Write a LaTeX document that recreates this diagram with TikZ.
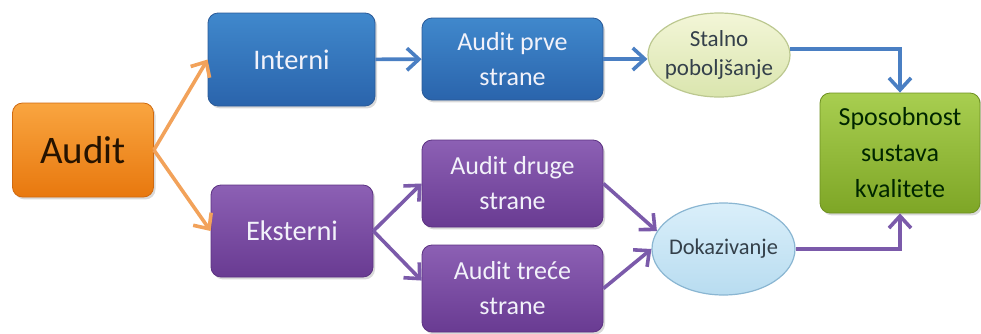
\documentclass[tikz,border=0pt]{standalone}
\usepackage{fontspec}
\setmainfont{Carlito}
\usetikzlibrary{arrows.meta,shapes.geometric,shadows}

\definecolor{orangetop}{HTML}{F9A540}
\definecolor{orangebot}{HTML}{E8780E}
\definecolor{orangeline}{HTML}{D06A10}
\definecolor{bluetop}{HTML}{4088CC}
\definecolor{bluebot}{HTML}{2A64AC}
\definecolor{blueline}{HTML}{2A5A98}
\definecolor{purpletop}{HTML}{8C60B4}
\definecolor{purplebot}{HTML}{693B92}
\definecolor{purpleline}{HTML}{5C3282}
\definecolor{greentop}{HTML}{A8CE50}
\definecolor{greenbot}{HTML}{7EA626}
\definecolor{greenline}{HTML}{6E9020}
\definecolor{paletop}{HTML}{F3F6D8}
\definecolor{palebot}{HTML}{DAE5AE}
\definecolor{paleline}{HTML}{BCC890}
\definecolor{skytop}{HTML}{DAEFFA}
\definecolor{skybot}{HTML}{B8DCF0}
\definecolor{skyline}{HTML}{8AB6D2}
\definecolor{orangearrow}{HTML}{F2A25A}
\definecolor{bluearrow}{HTML}{4A7FC3}
\definecolor{purplearrow}{HTML}{7B5AAA}
\definecolor{lightink}{HTML}{F2F2FA}
\definecolor{ovalink}{HTML}{34404A}

\tikzset{
  box/.style={rectangle, rounded corners=5pt, line width=0.4pt, inner sep=0pt,
    align=center, drop shadow={opacity=0.3, shadow xshift=1pt, shadow yshift=-1.2pt}},
  orangebox/.style={box, top color=orangetop, bottom color=orangebot, draw=orangeline,
    text=black!85!orange},
  bluebox/.style={box, top color=bluetop, bottom color=bluebot, draw=blueline, text=lightink},
  purplebox/.style={box, top color=purpletop, bottom color=purplebot, draw=purpleline, text=lightink},
  greenbox/.style={box, top color=greentop, bottom color=greenbot, draw=greenline,
    text=black!85!green},
  oval/.style={ellipse, inner xsep=-6pt, inner ysep=0pt, line width=0.6pt, align=center,
    text=ovalink},
  link/.style={line width=1.8pt, -{Straight Barb[length=6pt,width=11pt]}},
  orangelink/.style={link, draw=orangearrow},
  bluelink/.style={link, draw=bluearrow},
  purplelink/.style={link, draw=purplearrow}
}

\begin{document}
\begin{tikzpicture}[x=0.5pt, y=-0.5pt]
  \useasboundingbox (0,0) rectangle (981,333);
  \node[orangebox, minimum width=70.5pt, minimum height=47pt,
    font=\fontsize{19.5}{23}\selectfont] (audit) at (83,150) {Audit};
  \node[bluebox, minimum width=83.5pt, minimum height=46.5pt,
    font=\fontsize{14.2}{17}\selectfont] (interni) at (291.5,59.5) {Interni};
  \node[purplebox, minimum width=81pt, minimum height=46pt,
    font=\fontsize{14.2}{17}\selectfont] (eksterni) at (292,231) {Eksterni};
  \node[bluebox, minimum width=90.5pt, minimum height=41pt,
    font=\fontsize{13}{17.5}\selectfont] (prve) at (512.5,59) {Audit prve\\strane};
  \node[purplebox, minimum width=90.5pt, minimum height=43.5pt,
    font=\fontsize{13}{17.5}\selectfont] (druge) at (512.5,183.5) {Audit druge\\strane};
  \node[purplebox, minimum width=90.5pt, minimum height=43.5pt,
    font=\fontsize{13}{17.5}\selectfont] (trece) at (512.5,288.5) {Audit treće\\strane};
  \node[oval, top color=paletop, bottom color=palebot, draw=paleline,
    minimum width=71pt, minimum height=42pt,
    font=\fontsize{11.5}{14.5}\selectfont] (stalno) at (719,55) {Stalno\\poboljšanje};
  \node[oval, top color=skytop, bottom color=skybot, draw=skyline,
    minimum width=71.5pt, minimum height=46pt,
    font=\fontsize{11.2}{14}\selectfont] (dokaz) at (723.5,249) {Dokazivanje};
  \node[greenbox, minimum width=80pt, minimum height=60pt,
    font=\fontsize{13}{18}\selectfont] (sposobnost) at (900,153) {Sposobnost\\sustava\\kvalitete};
  % connectors
  \draw[orangelink] (audit.east) -- (interni.west);
  \draw[orangelink] (audit.east) -- (eksterni.west);
  \draw[bluelink] (interni) -- (prve);
  \draw[bluelink] (prve.east) -- (prve.east -| stalno.west);
  \draw[bluelink] (stalno.5) -| (sposobnost.north);
  \draw[purplelink] (eksterni.east) -- (druge.west);
  \draw[purplelink] (eksterni.east) -- (trece.175);
  \draw[purplelink] (druge.east) -- (dokaz.165);
  \draw[purplelink] (trece.east) -- (dokaz.west);
  \draw[purplelink] (dokaz.east) -| (sposobnost.south);
\end{tikzpicture}
\end{document}
